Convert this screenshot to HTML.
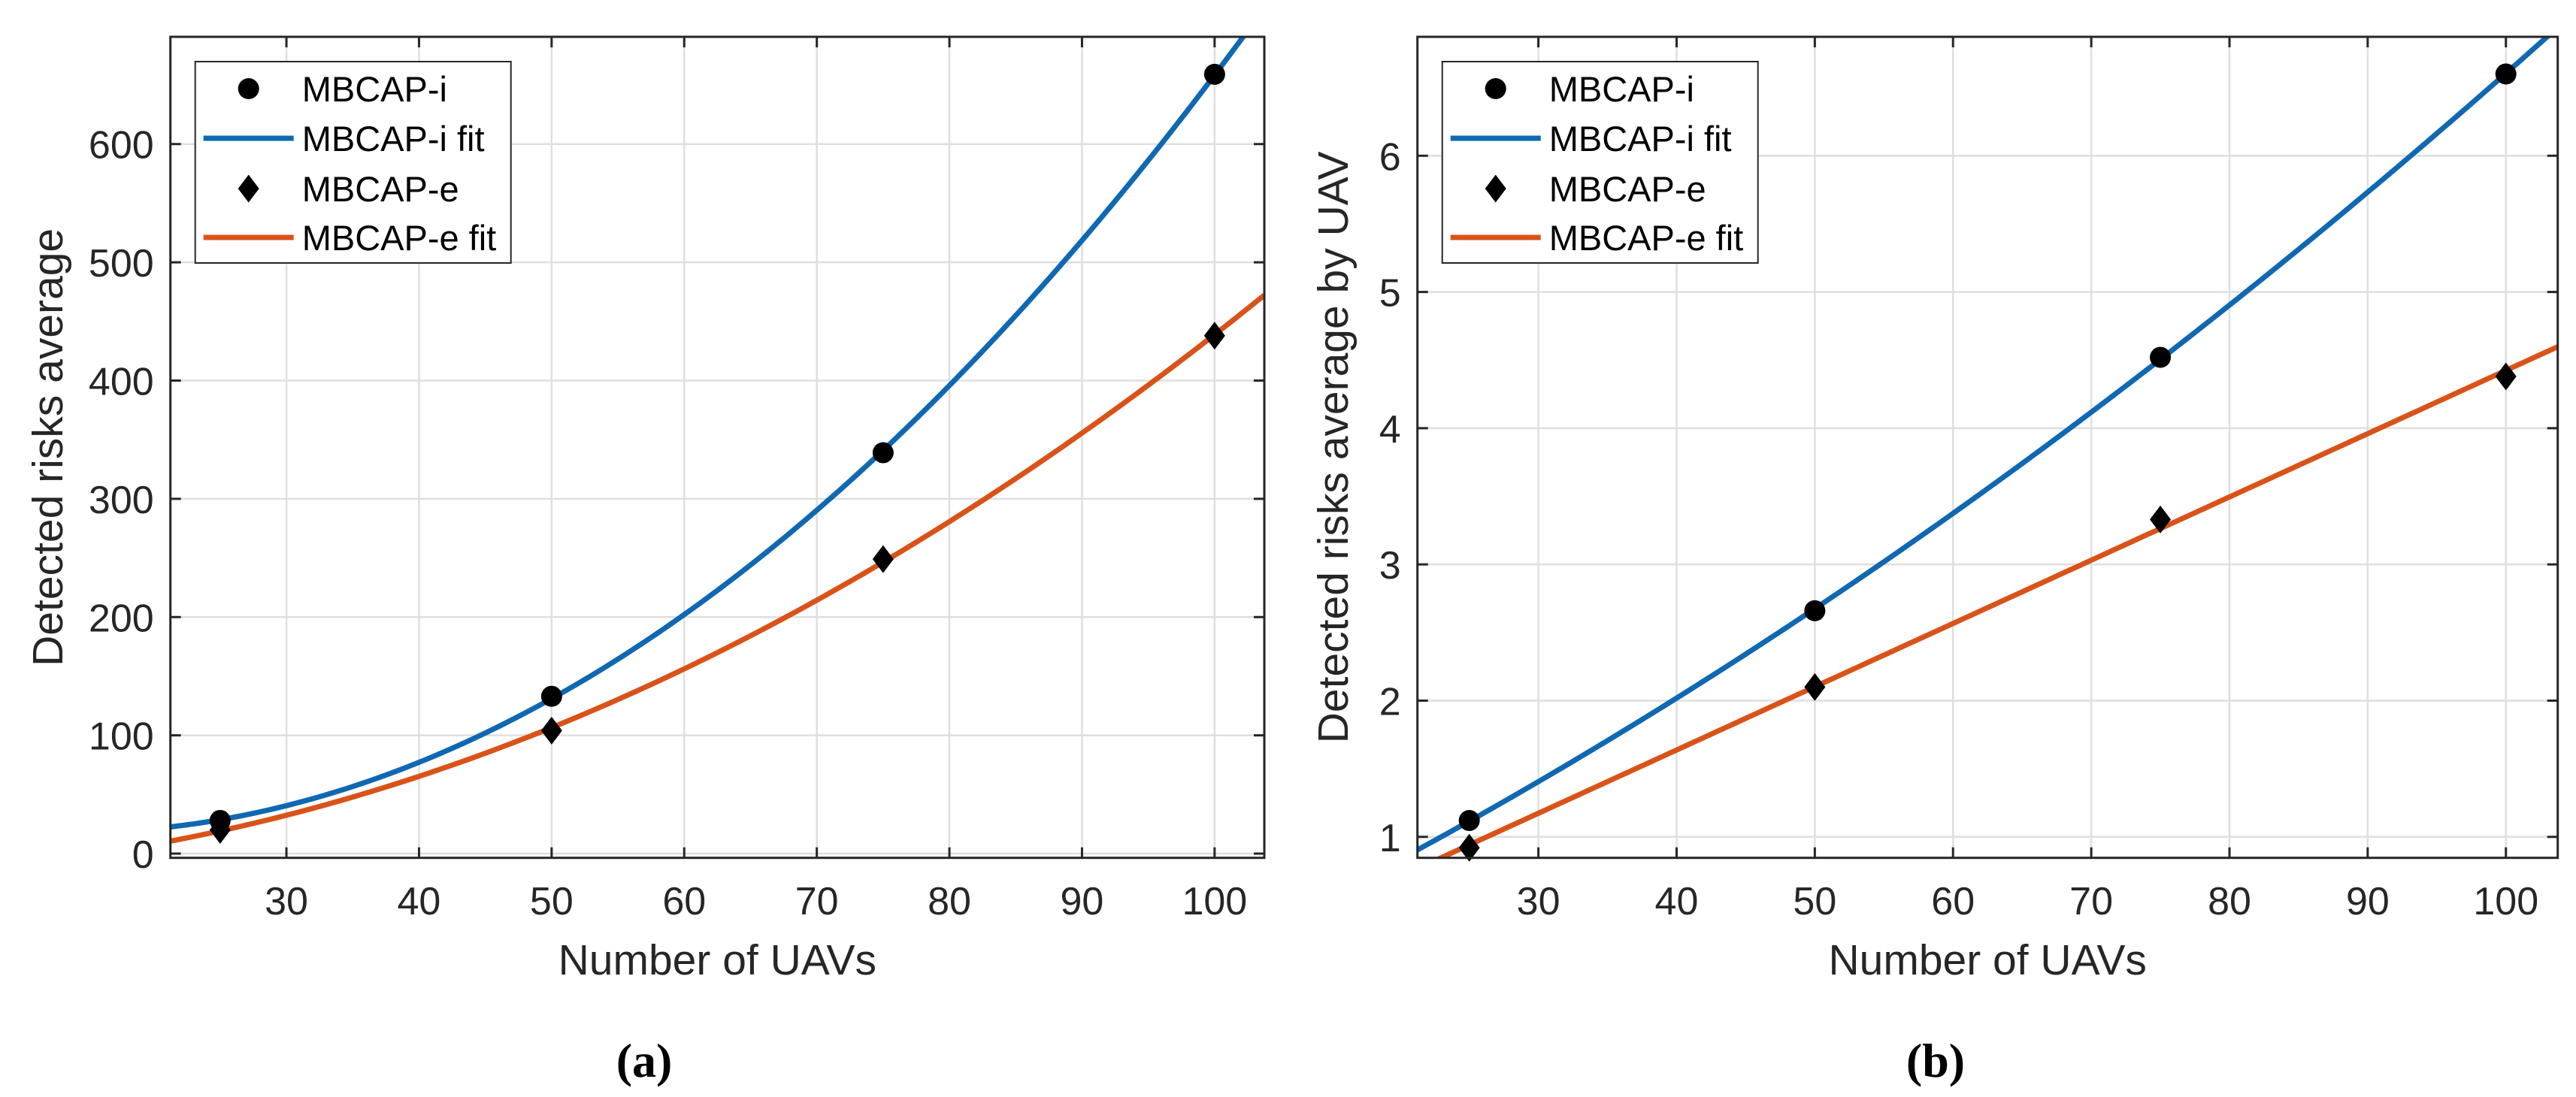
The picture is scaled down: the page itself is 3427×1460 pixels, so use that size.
<!DOCTYPE html>
<html><head><meta charset="utf-8"><style>
html,body{margin:0;padding:0;background:#fff;}
svg{display:block;}
text{font-family:"Liberation Sans",sans-serif;fill:#262626;}
</style></head><body>
<svg id="fig" width="3427" height="1460" viewBox="0 0 3427 1460" xmlns="http://www.w3.org/2000/svg"></svg>
<script>
const xValues = [25, 50, 75, 100];
const aSeriesI = [28, 133, 339, 659];
const aSeriesE = [20, 104, 249, 438];
const bSeriesI = [1.12, 2.66, 4.52, 6.6];
const bSeriesE = [0.92, 2.1, 3.33, 4.38];
const xTicks = [30, 40, 50, 60, 70, 80, 90, 100];
const aYTicks = [0, 100, 200, 300, 400, 500, 600];
const bYTicks = [1, 2, 3, 4, 5, 6];
const legendLabels = ["MBCAP-i", "MBCAP-i fit", "MBCAP-e", "MBCAP-e fit"];
const aFitDegrees = [2, 2];
const bFitDegrees = [2, 1];

const NS = "http://www.w3.org/2000/svg";
const svg = document.getElementById('fig');
function mk(tag, attrs, parent) {
  const e = document.createElementNS(NS, tag);
  for (const k in attrs) e.setAttribute(k, attrs[k]);
  (parent || svg).appendChild(e);
  return e;
}
function polyfit(xs, ys, deg) {
  const n = deg + 1;
  const A = [], b = [];
  for (let i = 0; i < n; i++) {
    A.push(new Array(n).fill(0)); b.push(0);
  }
  for (let k = 0; k < xs.length; k++) {
    for (let i = 0; i < n; i++) {
      b[i] += ys[k] * Math.pow(xs[k], i);
      for (let j = 0; j < n; j++) A[i][j] += Math.pow(xs[k], i + j);
    }
  }
  for (let i = 0; i < n; i++) {
    let p = i;
    for (let r = i + 1; r < n; r++) if (Math.abs(A[r][i]) > Math.abs(A[p][i])) p = r;
    [A[i], A[p]] = [A[p], A[i]]; [b[i], b[p]] = [b[p], b[i]];
    for (let r = 0; r < n; r++) {
      if (r === i) continue;
      const f = A[r][i] / A[i][i];
      for (let c = i; c < n; c++) A[r][c] -= f * A[i][c];
      b[r] -= f * b[i];
    }
  }
  return b.map((v, i) => v / A[i][i]);
}
function drawChart(cfg) {
  const g = mk('g', {});
  
  
  const L = cfg.left, R = cfg.right, T = 49, B = 1141.7;
  const sx = v => L + (v - cfg.xmin) / (cfg.xmax - cfg.xmin) * (R - L);
  const sy = v => B - (v - cfg.ymin) / (cfg.ymax - cfg.ymin) * (B - T);
  const clipId = cfg.name + '-clip';
  const cp = mk('clipPath', {id: clipId}, g);
  mk('rect', {x: L, y: T, width: R - L, height: B - T}, cp);
  // grid
  xTicks.forEach(t => {
    const l = mk('line', {x1: sx(t), x2: sx(t), y1: T, y2: B, stroke: '#dfdfdf', 'stroke-width': 2.5}, g);
    
    
  });
  cfg.yTicks.forEach(t => {
    const l = mk('line', {x1: L, x2: R, y1: sy(t), y2: sy(t), stroke: '#dfdfdf', 'stroke-width': 2.5}, g);
    
    
  });
  // fits
  const colors = ['#0f68b2', '#d95319'];
  const seriesList = [cfg.seriesI, cfg.seriesE];
  seriesList.forEach((ys, si) => {
    const c = polyfit(xValues, ys, cfg.degrees[si]);
    let d = '';
    for (let k = 0; k <= 200; k++) {
      const xv = cfg.xmin + (cfg.xmax - cfg.xmin) * k / 200;
      let yv = 0;
      c.forEach((ci, p) => yv += ci * Math.pow(xv, p));
      d += (k ? 'L' : 'M') + sx(xv).toFixed(2) + ' ' + sy(yv).toFixed(2);
    }
    const p = mk('path', {d: d, fill: 'none', stroke: colors[si], 'stroke-width': 7, 'clip-path': 'url(#' + clipId + ')'}, g);
    
    
  });
  // markers
  xValues.forEach((xv, i) => {
    const c = mk('circle', {cx: sx(xv), cy: sy(cfg.seriesI[i]), r: 14, fill: '#000'}, g);
    
    
    const X = sx(xv), Y = sy(cfg.seriesE[i]);
    const dm = mk('polygon', {points: `${X},${Y-18.5} ${X+14},${Y} ${X},${Y+18.5} ${X-14},${Y}`, fill: '#000'}, g);
    
    
  });
  // axes box
  const box = mk('rect', {x: L, y: T, width: R - L, height: B - T, fill: 'none', stroke: '#262626', 'stroke-width': 3}, g);
  
  
  // ticks & labels
  xTicks.forEach(t => {
    mk('line', {x1: sx(t), x2: sx(t), y1: B, y2: B - 14, stroke: '#262626', 'stroke-width': 3}, g);
    mk('line', {x1: sx(t), x2: sx(t), y1: T, y2: T + 14, stroke: '#262626', 'stroke-width': 3}, g);
    const tx = mk('text', {x: sx(t), y: 1217, 'font-size': 52, 'text-anchor': 'middle'}, g);
    tx.textContent = t;
    
    
  });
  cfg.yTicks.forEach(t => {
    mk('line', {x1: L, x2: L + 14, y1: sy(t), y2: sy(t), stroke: '#262626', 'stroke-width': 3}, g);
    mk('line', {x1: R, x2: R - 14, y1: sy(t), y2: sy(t), stroke: '#262626', 'stroke-width': 3}, g);
    const tx = mk('text', {x: L - 22, y: sy(t) + 19, 'font-size': 52, 'text-anchor': 'end'}, g);
    tx.textContent = t;
    
    
  });
  const xl = mk('text', {x: (L + R) / 2, y: 1297, 'font-size': 57, 'text-anchor': 'middle'}, g);
  xl.textContent = 'Number of UAVs';
  
  
  const yl = mk('text', {x: 0, y: 0, 'font-size': 57, 'text-anchor': 'middle', transform: `translate(${cfg.ylabelX},${(T + B) / 2}) rotate(-90)`}, g);
  yl.textContent = cfg.ylabel;
  
  
  // legend
  const lg = mk('g', {}, g);
  
  
  const lx = L + 33;
  mk('rect', {x: lx, y: 82, width: 420, height: 268, fill: '#fff', stroke: '#262626', 'stroke-width': 2}, lg);
  const rows = [118, 184, 251, 316];
  const mx = lx + 71;
  mk('circle', {cx: mx, cy: rows[0], r: 14, fill: '#000'}, lg);
  mk('line', {x1: lx + 11, x2: lx + 131, y1: rows[1], y2: rows[1], stroke: colors[0], 'stroke-width': 7}, lg);
  mk('polygon', {points: `${mx},${rows[2]-18.5} ${mx+14},${rows[2]} ${mx},${rows[2]+18.5} ${mx-14},${rows[2]}`, fill: '#000'}, lg);
  mk('line', {x1: lx + 11, x2: lx + 131, y1: rows[3], y2: rows[3], stroke: colors[1], 'stroke-width': 7}, lg);
  legendLabels.forEach((s, i) => {
    const t = mk('text', {x: lx + 142, y: rows[i] + 17, 'font-size': 47, fill: '#000'}, lg);
    t.style.fill = '#000';
    t.textContent = s;
    
    
  });
  const cap = mk('text', {x: cfg.capX, y: 1433, 'font-size': 64, 'font-weight': 'bold', 'text-anchor': 'middle', style: 'font-family:"Liberation Serif",serif;fill:#000'}, g);
  cap.textContent = cfg.caption;
  
  
}
drawChart({name: 'chart-a', left: 226.7, right: 1682, xmin: 21.25, xmax: 103.75, ymin: -3.6, ymax: 690.7,
  yTicks: aYTicks, seriesI: aSeriesI, seriesE: aSeriesE, degrees: aFitDegrees,
  ylabel: 'Detected risks average', ylabelX: 83, caption: '(a)', capX: 857});
drawChart({name: 'chart-b', left: 1885.7, right: 3402.7, xmin: 21.25, xmax: 103.75, ymin: 0.846, ymax: 6.873,
  yTicks: bYTicks, seriesI: bSeriesI, seriesE: bSeriesE, degrees: bFitDegrees,
  ylabel: 'Detected risks average by UAV', ylabelX: 1793, caption: '(b)', capX: 2575});
</script>
</body></html>
